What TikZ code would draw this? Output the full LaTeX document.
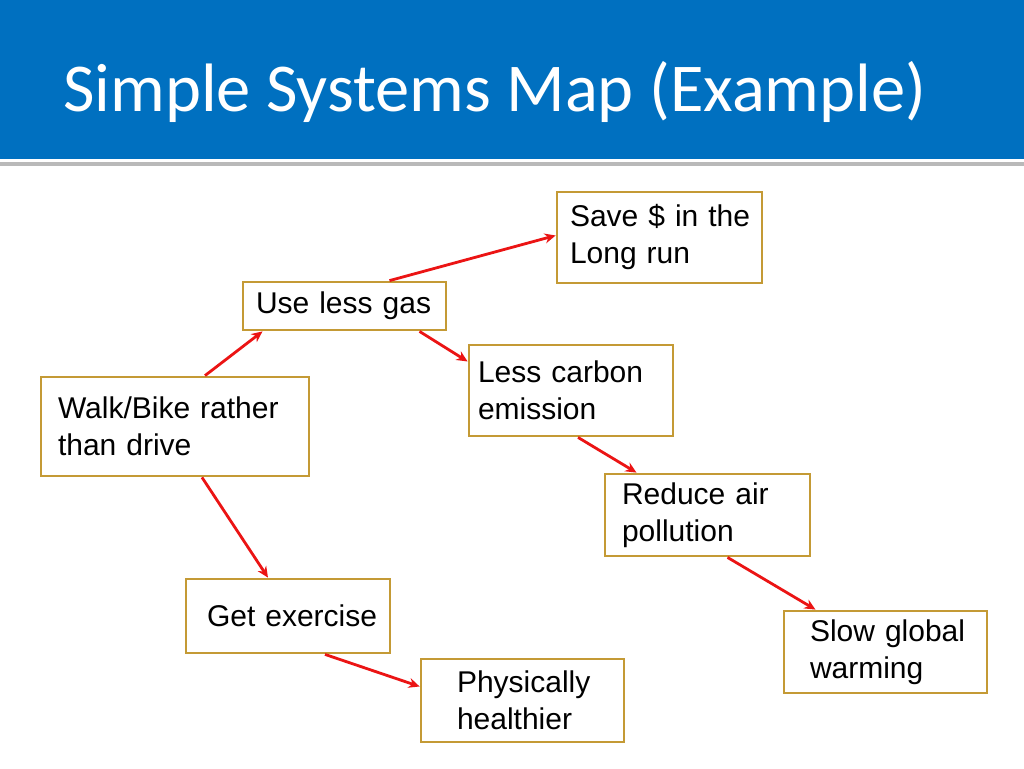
\documentclass[tikz,border=0pt]{standalone}
\usepackage{fontspec}
\setmainfont{Liberation Sans}
\newfontfamily\titlefont{Carlito}
\usetikzlibrary{arrows.meta,positioning,calc}
\definecolor{SlideBlue}{RGB}{0,112,192}
\definecolor{BoxGold}{RGB}{196,154,53}
\definecolor{LinkRed}{RGB}{235,20,20}
\hyphenpenalty=10000
\exhyphenpenalty=10000

\begin{document}
\begin{tikzpicture}[x=1pt,y=-1pt,
        mapbox/.style={draw=BoxGold,line width=2.8pt,fill=white,
          align=left,inner ysep=2pt,
          font=\fontsize{30}{37}\selectfont},
        link/.style={-{Stealth[length=11pt,width=10pt]},line width=2.8pt,draw=LinkRed},
        heading/.style={font=\titlefont\fontsize{68.5}{72}\selectfont,text=white,
          anchor=base west,inner sep=0pt}
      ]
        \useasboundingbox (0,0) rectangle (1024,768);
        % title bar
        \fill[SlideBlue] (0,0) rectangle (1024,159);
        \fill[gray!55] (0,162) rectangle (1024,166);
        \node[heading] (title) at (63,111) {Simple Systems Map (Example)};

        \node[mapbox,text width=179,inner xsep=13,minimum height=91] (save) at (659.5,237.5)
          {Save~\$~in~the\\Long run};
        \node[mapbox,text width=177,inner xsep=13,minimum height=48] (gas) at (344.5,306)
          {Use~less~gas};
        \node[mapbox,text width=186,inner xsep=9,minimum height=91] (carbon) at (571,390.5)
          {Less carbon\\emission};
        \node[mapbox,text width=234,inner xsep=17,minimum height=99] (walk) at (175,426.5)
          {Walk/Bike rather\\than drive};
        \node[mapbox,text width=171,inner xsep=17,minimum height=82] (air) at (707.5,515)
          {Reduce air\\pollution};
        \node[mapbox,text width=162,inner xsep=21,minimum height=74] (exercise) at (288,616)
          {Get~exercise};
        \node[mapbox,text width=131,inner xsep=36,minimum height=83] (healthy) at (522.5,700.5)
          {Physically\\healthier};
        \node[mapbox,text width=151,inner xsep=26,minimum height=82] (warming) at (885.5,652)
          {Slow~global\\warming};

        \draw[link] ([xshift=30pt]walk.north) -- ([xshift=-82pt]gas.south);
        \draw[link] ([xshift=45pt]gas.north) -- ([yshift=2pt]save.west);
        \draw[link] ([xshift=75pt]gas.south) -- ([yshift=29pt]carbon.west);
        \draw[link] ([xshift=7pt]carbon.south) -- ([xshift=-71pt]air.north);
        \draw[link] ([xshift=20pt]air.south) -- ([xshift=-70pt]warming.north);
        \draw[link] ([xshift=27pt]walk.south) -- ([xshift=-20pt]exercise.north);
        \draw[link] ([xshift=37pt]exercise.south) -- ([yshift=14pt]healthy.west);
      \end{tikzpicture}
\end{document}
